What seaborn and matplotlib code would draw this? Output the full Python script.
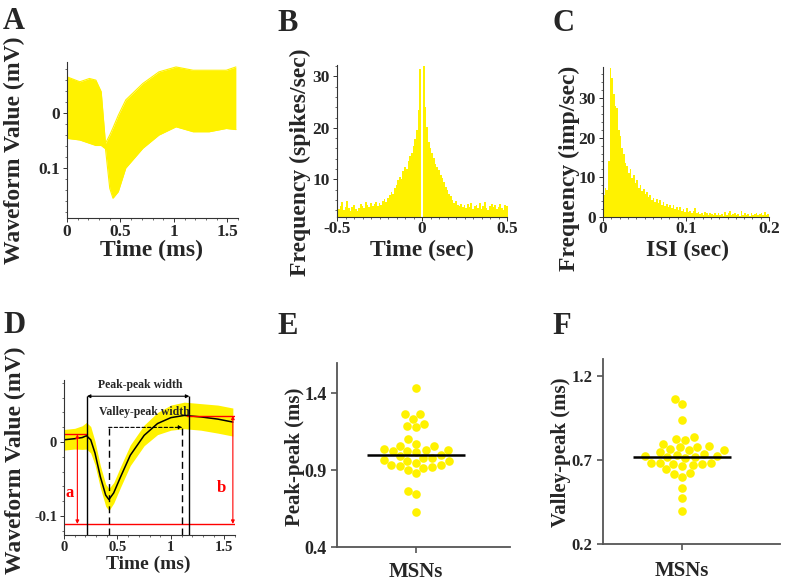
import numpy as np
import pandas as pd
import matplotlib
matplotlib.use("Agg")
import matplotlib.pyplot as plt
import seaborn as sns
from matplotlib.ticker import MultipleLocator

# ---------------- data ----------------
# Panel A: envelope of the overlaid spike waveforms (ms, mV)
a_time = [0.0, 0.12, 0.21, 0.27, 0.32, 0.36, 0.40, 0.43, 0.48, 0.55, 0.71, 0.86, 1.02, 1.18, 1.33, 1.49, 1.58]
a_upper = [0.066, 0.057, 0.063, 0.060, 0.039, -0.055, -0.040, -0.027, -0.004, 0.024, 0.054, 0.075, 0.084, 0.078, 0.078, 0.078, 0.084]
a_lower = [-0.046, -0.049, -0.055, -0.059, -0.059, -0.065, -0.137, -0.155, -0.143, -0.100, -0.064, -0.040, -0.025, -0.034, -0.034, -0.028, -0.030]

# Panel B: autocorrelogram, 10 ms bins from -0.5 to 0.5 s (spikes/sec)
b_centers = np.round(np.arange(-0.50, 0.5001, 0.01), 3)
b_values = [5.2, 4.3, 4.8, 5.6, 4.1, 4.6, 5.9, 4.4, 3.9, 4.7,
            5.1, 4.2, 3.8, 4.5, 5.3, 4.9, 4.4, 5.6, 5.0, 4.6,
            5.4, 4.8, 5.2, 5.7, 4.9,
            5.5, 5.0, 5.8, 6.2, 5.6, 6.4, 6.9, 7.5, 7.2, 8.4,
            8.9, 9.8, 10.5, 10.1, 11.6, 12.4, 12.0, 13.5, 14.6, 15.2,
            16.4, 17.8, 19.6, 23.5, 31.5,
            0.0,
            32.0, 24.0, 20.1, 17.2, 16.0, 15.1, 14.2, 13.0, 12.5, 11.8,
            10.9, 10.3, 9.4, 8.6, 7.9, 7.1, 6.8, 6.0, 5.4, 5.8,
            5.1, 4.8, 5.3, 4.6, 5.0,
            4.4, 5.2, 4.7, 5.5, 4.3, 4.9, 5.1, 4.5, 5.4, 4.2,
            4.8, 5.6, 4.4, 4.0, 4.9, 5.3, 4.6, 5.0, 4.3, 4.7,
            5.2, 4.5, 4.1, 5.0, 4.8]

# Panel C: ISI histogram, 2 ms bins from 0 to 0.2 s (imp/sec)
c_centers = np.round(np.arange(0.001, 0.2, 0.002), 4)
c_values = [5.5, 7.4, 6.8, 14.0, 37.5, 35.0, 31.0, 28.0, 27.5, 22.0,
            20.5, 17.5, 16.0, 13.5, 12.8, 11.0, 12.2, 9.8, 10.5, 8.6,
            9.2, 7.4, 8.1, 6.5, 7.0, 5.8, 6.4, 5.0, 5.6, 4.4,
            4.9, 3.8, 4.6, 3.5, 4.2, 3.1, 3.7, 2.8, 3.4, 2.5,
            3.0, 2.2, 2.9, 1.9, 2.6, 1.7, 2.4, 1.5, 2.0, 1.3,
            2.3, 1.2, 1.6, 1.0, 1.4, 2.3, 0.9, 1.3, 0.8, 1.1,
            0.6, 1.2, 0.9, 0.5, 1.0, 0.7, 0.4, 0.9, 0.6, 1.1,
            0.5, 0.8, 0.3, 1.3, 0.6, 0.9, 1.5, 0.4, 0.7, 1.0,
            0.5, 0.8, 0.3, 1.4, 0.6, 0.9, 0.4, 0.7, 0.3, 1.0,
            0.5, 0.8, 1.1, 0.4, 0.7, 0.9, 0.5, 1.2, 0.6, 0.8]

# Panel D: mean waveform and its spread (ms, mV)
d_time = [0.0, 0.10, 0.17, 0.21, 0.25, 0.29, 0.34, 0.39, 0.42, 0.465, 0.53, 0.62, 0.75, 0.875, 1.0, 1.125, 1.28, 1.44, 1.58]
d_mean = [0.003, 0.0045, 0.006, 0.0085, 0.003, -0.015, -0.047, -0.072, -0.078, -0.069, -0.047, -0.018, 0.009, 0.025, 0.033, 0.036, 0.034, 0.031, 0.027]
d_upper = [0.017, 0.0185, 0.022, 0.0265, 0.021, 0.001, -0.032, -0.057, -0.063, -0.055, -0.033, -0.004, 0.023, 0.040, 0.050, 0.054, 0.052, 0.050, 0.046]
d_lower = [-0.011, -0.0095, -0.010, -0.0095, -0.015, -0.031, -0.062, -0.087, -0.093, -0.083, -0.061, -0.032, -0.005, 0.010, 0.016, 0.018, 0.016, 0.012, 0.008]
d_first_peak = (0.214, 0.0103)
d_valley_t = 0.418
d_second_peak = (1.173, 0.0356)
d_valley_peak_end = 1.107
d_base_level = -0.111
d_a_t, d_b_t = 0.125, 1.58

# Panels E / F: per-neuron widths (ms)
e_values = [1.430, 1.264, 1.264, 1.231, 1.186, 1.199, 1.179, 1.099, 1.071, 1.056,
            1.025, 1.034, 1.023, 1.015, 1.032, 1.032, 1.058, 0.991, 0.980, 0.997,
            0.963, 0.960, 0.960, 0.980, 0.928, 0.922, 0.930, 0.911, 0.902, 0.930,
            0.945, 0.878, 0.766, 0.746, 0.629]
e_mean = 0.995
f_values = [1.065, 1.031, 0.936, 0.839, 0.821, 0.827, 0.797, 0.781, 0.779, 0.765,
            0.775, 0.761, 0.756, 0.738, 0.748, 0.722, 0.722, 0.716, 0.730, 0.714,
            0.720, 0.684, 0.684, 0.670, 0.674, 0.646, 0.684, 0.666, 0.678, 0.623,
            0.597, 0.615, 0.531, 0.472, 0.398]
f_mean = 0.720
group_label = "MSNs"

# ---------------- style ----------------
sns.set_theme(style="ticks")
plt.rcParams["font.family"] = ["Liberation Serif", "DejaVu Serif"]
plt.rcParams["font.weight"] = "bold"
plt.rcParams["axes.labelweight"] = "bold"

YEL = "#FFF200"
W, H = 786, 581
fig = plt.figure(figsize=(W / 100, H / 100), dpi=100)


def add_ax(x0, y0, x1, y1):
    return fig.add_axes([x0 / W, 1 - y1 / H, (x1 - x0) / W, (y1 - y0) / H])


def ftext(x, y, s, **kw):
    fig.text(x / W, 1 - y / H, s, **kw)


def style_small(ax, fs, xpad=1):
    for s in ["top", "right"]:
        ax.spines[s].set_visible(False)
    for s in ["left", "bottom"]:
        ax.spines[s].set_color("#333333")
        ax.spines[s].set_linewidth(0.8)
    ax.tick_params(which="major", labelsize=fs, length=3, width=0.7, color="#333333", pad=2, direction="out")
    ax.tick_params(which="minor", length=1.5, width=0.6, color="#555555", direction="out")
    ax.tick_params(axis="x", which="major", pad=xpad)
    ax.set_xlabel("")
    ax.set_ylabel("")


def style_big(ax, fs):
    for s in ["top", "right"]:
        ax.spines[s].set_visible(False)
    for s in ["left", "bottom"]:
        ax.spines[s].set_color("#555555")
        ax.spines[s].set_linewidth(1.3)
    ax.tick_params(which="major", labelsize=fs, length=4, width=1.2, color="#555555", direction="out")
    ax.set_xlabel("")
    ax.set_ylabel("")


YLBL = dict(fontsize=17, fontweight="bold", ha="center", va="center", rotation=90)
XLBL = dict(fontsize=17, fontweight="bold", ha="center", va="baseline")
LETTER = dict(fontsize=22, fontweight="bold", ha="left", va="top")

# ---------------- Panel A ----------------
axA = add_ax(67, 62, 238, 218)
axA.fill_between(a_time, a_lower, a_upper, color=YEL, lw=0)
sns.lineplot(x=a_time, y=a_upper, ax=axA, color=YEL, lw=0.8)
sns.lineplot(x=a_time, y=a_lower, ax=axA, color=YEL, lw=0.8)
axA.set_xlim(0, 1.6)
axA.set_ylim(-0.191, 0.093)
axA.set_xticks([0, 0.5, 1, 1.5], ["0", "0.5", "1", "1.5"])
axA.set_yticks([-0.1, 0], ["0.1", "0"])
axA.xaxis.set_minor_locator(MultipleLocator(0.1))
axA.yaxis.set_minor_locator(MultipleLocator(0.02))
style_small(axA, 12.5, xpad=1)
ftext(14, 150, "Waveform Value (mV)", **YLBL)
ftext(152, 256, "Time (ms)", **XLBL)
ftext(3, 7, "A", **LETTER)

# ---------------- Panel B ----------------
axB = add_ax(337, 65, 507, 217)
dfB = pd.DataFrame({"t": b_centers, "freq": b_values})
sns.histplot(data=dfB, x="t", weights="freq", binwidth=0.01, binrange=(-0.505, 0.505),
             element="step", fill=True, color=YEL, alpha=1, linewidth=0, ax=axB)
axB.set_xlim(-0.5, 0.5)
axB.set_ylim(2.7, 32.2)
axB.set_xticks([-0.5, 0, 0.5], ["-0.5", "0", "0.5"])
axB.set_yticks([10, 20, 30])
axB.xaxis.set_minor_locator(MultipleLocator(0.05))
axB.yaxis.set_minor_locator(MultipleLocator(2))
style_small(axB, 12.5, xpad=0)
ftext(300, 162, "Frequency (spikes/sec)", **YLBL)
ftext(422, 256, "Time (sec)", **XLBL)
ftext(277, 9, "B", **LETTER)

# ---------------- Panel C ----------------
axC = add_ax(603, 67, 769, 217)
dfC = pd.DataFrame({"isi": c_centers, "freq": c_values})
sns.histplot(data=dfC, x="isi", weights="freq", binwidth=0.002, binrange=(0.0, 0.2),
             element="step", fill=True, color=YEL, alpha=1, linewidth=0, ax=axC)
axC.set_xlim(0, 0.2)
axC.set_ylim(0, 37.8)
axC.set_xticks([0, 0.1, 0.2], ["0", "0.1", "0.2"])
axC.set_yticks([0, 10, 20, 30])
axC.xaxis.set_minor_locator(MultipleLocator(0.01))
axC.yaxis.set_minor_locator(MultipleLocator(2))
style_small(axC, 12.5, xpad=0)
ftext(569, 168, "Frequency (imp/sec)", **YLBL)
ftext(687, 256, "ISI (sec)", **XLBL)
ftext(553, 9, "C", **LETTER)

# ---------------- Panel D ----------------
axD = add_ax(64, 380, 235, 535)
axD.fill_between(d_time, d_lower, d_upper, color=YEL, lw=0)
sns.lineplot(x=d_time, y=d_mean, ax=axD, color="black", lw=1.1)
axD.set_xlim(0, 1.6)
axD.set_ylim(-0.126, 0.084)
ybot = -0.126
# red reference lines and amplitude arrows
axD.axhline(d_base_level, color="red", lw=1)
axD.plot([0, d_first_peak[0]], [d_first_peak[1]] * 2, color="red", lw=1)
axD.plot([d_second_peak[0] - 0.02, 1.6], [d_second_peak[1]] * 2, color="red", lw=1)
for tx, top in [(d_a_t, d_first_peak[1]), (d_b_t, d_second_peak[1])]:
    axD.annotate("", xy=(tx, d_base_level), xytext=(tx, top),
                 arrowprops=dict(arrowstyle="<|-|>", color="red", lw=0.8, mutation_scale=5,
                                 shrinkA=0, shrinkB=0))
axD.text(0.05, -0.069, "a", color="red", fontsize=12, fontweight="bold", ha="center", va="center")
axD.text(1.47, -0.063, "b", color="red", fontsize=12, fontweight="bold", ha="center", va="center")
# peak-peak width
pp_level = 0.062
axD.vlines([d_first_peak[0], d_second_peak[0]], ybot, pp_level, color="black", lw=1)
axD.annotate("", xy=(d_second_peak[0], pp_level), xytext=(d_first_peak[0], pp_level),
             arrowprops=dict(arrowstyle="<|-|>", color="black", lw=0.8, mutation_scale=5,
                             shrinkA=0, shrinkB=0))
axD.text(0.717, 0.077, "Peak-peak width", fontsize=8.5, fontweight="bold", ha="center", va="center")
# valley-peak width
vp_level = 0.0198
axD.vlines([d_valley_t, d_valley_peak_end], ybot, vp_level, color="black", lw=1, linestyles=(0, (5, 3)))
axD.annotate("", xy=(d_valley_peak_end, vp_level), xytext=(d_valley_t, vp_level),
             arrowprops=dict(arrowstyle="-|>", color="black", lw=0.8, mutation_scale=5,
                             shrinkA=0, shrinkB=0, linestyle=(0, (3, 2))))
axD.text(0.75, 0.040, "Valley-peak width", fontsize=8.5, fontweight="bold", ha="center", va="center")
axD.set_xticks([0, 0.5, 1, 1.5], ["0", "0.5", "1", "1.5"])
axD.set_yticks([-0.1, 0], ["-0.1", "0"])
axD.xaxis.set_minor_locator(MultipleLocator(0.1))
axD.yaxis.set_minor_locator(MultipleLocator(0.02))
style_small(axD, 10.5, xpad=1)
ftext(15, 460, "Waveform Value (mV)", **YLBL)
ftext(148, 569, "Time (ms)", fontsize=14, fontweight="bold", ha="center", va="baseline")
ftext(3, 311, "D", **LETTER)

# ---------------- Panel E ----------------
axE = add_ax(337, 363, 510, 547)
dfE = pd.DataFrame({"group": group_label, "value": e_values})
sns.swarmplot(data=dfE, x="group", y="value", ax=axE, color=YEL, size=6.2, linewidth=0)
axE.hlines(e_mean, -0.34, 0.34, color="black", lw=1.8, zorder=5)
axE.set_xlim(-0.549, 0.653)
axE.set_ylim(0.4, 1.595)
axE.set_yticks([0.4, 0.9, 1.4], ["0.4", "0.9", "1.4"])
style_big(axE, 13)
axE.tick_params(axis="x", labelsize=15, pad=7)
ftext(295, 457, "Peak-peak (ms)", rotation=90, fontsize=15, fontweight="bold", ha="center", va="center")
ftext(277, 312, "E", **LETTER)

# ---------------- Panel F ----------------
axF = add_ax(603, 359, 780, 544)
dfF = pd.DataFrame({"group": group_label, "value": f_values})
sns.swarmplot(data=dfF, x="group", y="value", ax=axF, color=YEL, size=6.2, linewidth=0)
axF.hlines(f_mean, -0.34, 0.34, color="black", lw=1.8, zorder=5)
axF.set_xlim(-0.549, 0.681)
axF.set_ylim(0.2, 1.30)
axF.set_yticks([0.2, 0.7, 1.2], ["0.2", "0.7", "1.2"])
style_big(axF, 12)
axF.tick_params(axis="x", labelsize=15, pad=8)
ftext(561, 452, "Valley-peak (ms)", rotation=90, fontsize=15, fontweight="bold", ha="center", va="center")
ftext(552, 312, "F", **LETTER)

fig.savefig("out.png", dpi=100)
